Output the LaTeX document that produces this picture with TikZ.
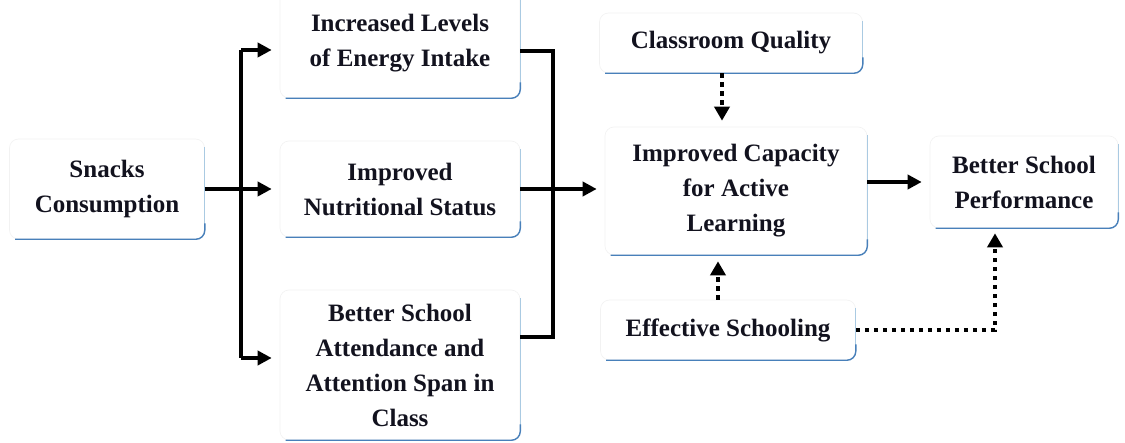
\documentclass[tikz,border=0pt]{standalone}
\usepackage{fontspec}
\setmainfont{Liberation Serif}
\usetikzlibrary{arrows.meta}
\definecolor{edgeblue}{RGB}{72,128,186}
\definecolor{edgepale}{RGB}{170,202,226}
\definecolor{inkdark}{RGB}{18,18,30}
\begin{document}
\begin{tikzpicture}[x=1pt,y=-1pt,
  box/.style={rounded corners=9pt, draw=black!5, line width=0.6pt, fill=white,
    align=center, text=inkdark, inner sep=0pt,
    font=\bfseries\fontsize{25}{35}\selectfont},
  arr/.style={line width=3.5pt, -{Triangle[length=14pt,width=14pt]}, shorten >=8pt},
  link/.style={line width=3.5pt},
  dotarr/.style={line width=4pt, dash pattern=on 4.5pt off 4.5pt,
    -{Triangle[length=14pt,width=15pt]}, shorten >=6pt},
  bottomedge/.style={draw=edgeblue, line width=1.4pt, rounded corners=9pt},
  sideedge/.style={draw=edgepale, line width=0.9pt}]
\fill[white] (0,0) rectangle (1125,443);
\useasboundingbox (0,0) rectangle (1125,443);

% boxes
\node[box, minimum width=195pt, minimum height=100pt] (snacks) at (107,189) {Snacks\\Consumption};
\node[box, minimum width=240pt, minimum height=110pt] (inc) at (400,43) {Increased Levels\\of Energy Intake};
\node[box, minimum width=240pt, minimum height=96pt] (nut) at (400,189) {Improved\\Nutritional Status};
\node[box, minimum width=240pt, minimum height=150pt] (att) at (400,365) {Better School\\Attendance and\\Attention Span in\\Class};
\node[box, minimum width=263pt, minimum height=60pt] (class) at (731,43) {Classroom Quality};
\node[box, minimum width=262pt, minimum height=128pt] (cap) at (736,191) {Improved Capacity\\for Active\\Learning};
\node[box, minimum width=188pt, minimum height=92pt] (perf) at (1024,182) {Better School\\Performance};
\node[box, minimum width=255pt, minimum height=60pt] (eff) at (728,330) {Effective Schooling};

% blue bottom and right edges of every box
\foreach \n in {snacks,inc,nut,att,class,cap,perf,eff}{
  \draw[sideedge] ([yshift=9pt]\n.south east) -- ([yshift=-8pt]\n.north east);
  \draw[bottomedge] ([xshift=6pt]\n.south west) -- (\n.south east) -- ([yshift=16pt]\n.south east);
}

% left bracket
\coordinate (lt) at (241,50);
\coordinate (lb) at (241,358);
\draw[link] (lt) -- (lb);
\draw[arr] (lt) -- (lt -| inc.west);
\draw[arr] (snacks.east |- nut.west) -- (nut.west);
\draw[arr] (lb) -- (lb -| att.west);

% right bracket
\coordinate (rt) at (553,51);
\coordinate (rb) at (553,337);
\draw[link] (inc.east |- rt) -- (rt) -- (rb) -- (att.east |- rb);
\draw[arr] (nut.east) -- (nut.east -| cap.west);

% towards performance
\draw[arr] (cap.east |- perf.west) -- (perf.west);

% dotted influences
\draw[dotarr] ([xshift=-9pt]class.south) -- ([xshift=-9pt]class.south |- cap.north);
\draw[dotarr] ([xshift=-10pt]eff.north) -- ([xshift=-10pt]eff.north |- cap.south);
\draw[dotarr, shorten >=5pt] (eff.east) -| ([xshift=-29pt]perf.south);
\end{tikzpicture}
\end{document}
